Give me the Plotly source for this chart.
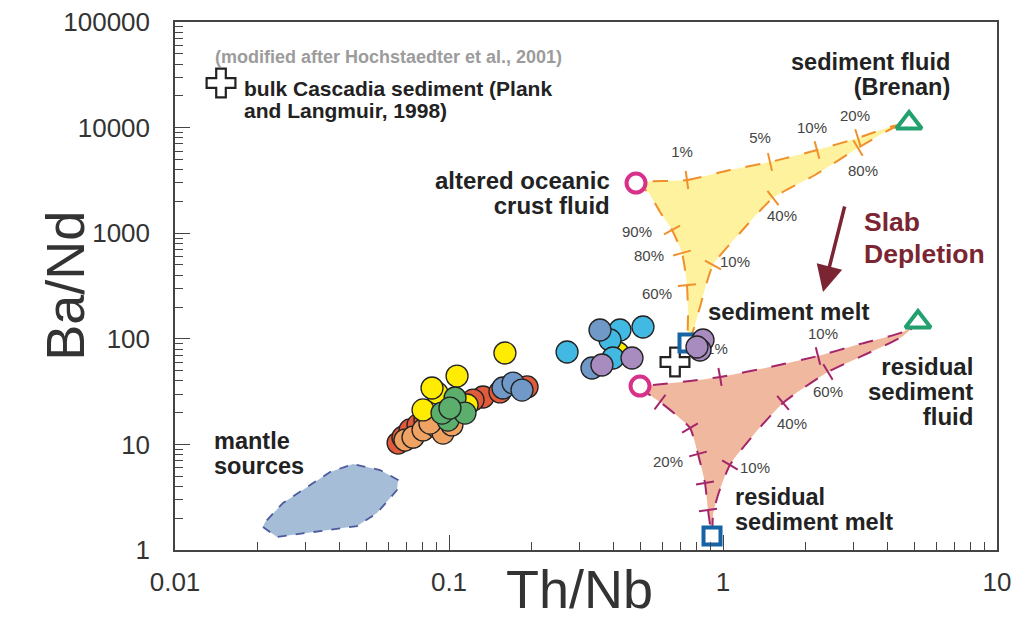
import math
import plotly.graph_objects as go

# ---------------- data (Th/Nb, Ba/Nd) ----------------
red_x = [0.0652, 0.0679, 0.0721, 0.0771, 0.0817, 0.1331, 0.1224, 0.1927, 0.1535]
red_y = [10.3, 11.7, 13.7, 15.3, 17.0, 28.1, 26.3, 35.0, 31.4]
orange_x = [0.0691, 0.0739, 0.0804, 0.0904, 0.0951, 0.0852, 0.1025]
orange_y = [11.0, 11.7, 13.7, 14.6, 12.8, 15.9, 15.3]
yellow_x = [0.16, 0.107, 0.0904, 0.0804, 0.4139, 0.0867, 0.1164]
yellow_y = [73.4, 44.4, 30.7, 21.2, 73.4, 34.2, 23.6]
green_x = [0.1052, 0.0992, 0.1144, 0.0943, 0.1008]
green_y = [27.5, 17.0, 19.8, 19.8, 22.1]
ltblue_x = [0.2697, 0.4207, 0.5105, 0.3869, 0.3967]
ltblue_y = [75.0, 121.2, 129.4, 97.4, 65.8]
stblue_x = [0.1574, 0.1713, 0.1847, 0.3557, 0.3325]
stblue_y = [34.2, 38.1, 32.7, 121.2, 52.9]
purple_x = [0.3616, 0.4655, 0.8453, 0.8241, 0.8035]
purple_y = [56.5, 65.8, 97.4, 78.3, 83.6]

# end members
aoc_fluid = (0.4814, 2987)
sed_fluid = (4.775, 11060)
sed_melt = (0.7451, 91.3)
res_aoc = (0.4979, 35.7)
res_sed_fluid = (5.149, 144.2)
res_sed_melt = (0.9118, 1.357)
cascadia = (0.668, 60.3)
legend_cross = (0.01472, 26440)

# mantle sources field
mantle_x = [0.02094, 0.02357, 0.04615, 0.05461, 0.06461, 0.06516, 0.05603, 0.04464, 0.03681, 0.02479, 0.02133, 0.02094]
mantle_y = [1.651, 1.328, 1.687, 2.24, 3.70, 4.60, 5.72, 6.52, 5.48, 2.79, 1.84, 1.651]

# upper mixing triangle
up_top_x = [0.4814, 0.7387, 1.060, 1.484, 2.203, 3.109, 4.173, 4.775]
up_top_y = [2987, 3190, 3966, 4722, 6135, 7980, 10360, 11060]
up_right_x = [4.775, 4.173, 3.109, 2.167, 1.522, 1.153, 0.9194, 0.8241, 0.7839, 0.7451]
up_right_y = [11060, 9910, 6412, 3557, 2153, 1004, 500, 200, 126.5, 91.3]
up_left_x = [0.4814, 0.5325, 0.589, 0.6515, 0.7084, 0.7387, 0.7451, 0.7451]
up_left_y = [2987, 2455, 1588, 1072, 649, 323, 168, 91.3]
up_tick_x = [0.7387, 1.484, 2.203, 3.109, 3.109, 1.522, 0.9194, 0.6515, 0.7084, 0.7387]
up_tick_y = [3190, 4722, 6135, 7980, 6412, 2153, 500, 1072, 649, 323]
up_lab = ["1%", "5%", "10%", "20%", "80%", "40%", "10%", "90%", "80%", "60%"]
up_lab_x = [0.7084, 1.365, 2.113, 3.032, 3.243, 1.642, 1.106, 0.4855, 0.5369, 0.5742]
up_lab_y = [5744, 7800, 9700, 12590, 3800, 1423, 522, 1004, 595, 260]

# lower (residual) mixing triangle
lo_top_x = [0.4979, 0.5553, 0.7579, 0.9752, 1.484, 2.222, 3.162, 4.539, 5.149]
lo_top_y = [35.7, 36.5, 39.8, 43.5, 54.1, 68.7, 89.3, 116, 144.2]
lo_right_x = [5.149, 4.539, 3.162, 2.416, 1.656, 1.309, 1.060, 0.959, 0.9194, 0.9118]
lo_right_y = [144.2, 106.3, 67.3, 48.5, 24.7, 12.8, 6.38, 3.32, 2.145, 1.357]
lo_left_x = [0.4979, 0.528, 0.589, 0.668, 0.7579, 0.8103, 0.8596, 0.8816, 0.9118]
lo_left_y = [35.7, 30.7, 25.2, 19.4, 14.3, 8.11, 4.31, 2.39, 1.357]
lo_tick_x = [0.9752, 2.222, 2.416, 1.656, 1.060, 0.589, 0.7579, 0.8103, 0.8596, 0.8816]
lo_tick_y = [43.5, 68.7, 48.5, 24.7, 6.38, 25.2, 14.3, 8.11, 4.31, 2.39]
lo_lab = ["1%", "10%", "60%", "40%", "10%", "20%"]
lo_lab_x = [0.95, 2.317, 2.416, 1.786, 1.309, 0.630]
lo_lab_y = [78.3, 108.0, 30.7, 15.3, 5.85, 6.67]

x_tickvals = [0.01, 0.1, 1, 10]
x_ticktext = ["0.01", "0.1", "1", "10"]
y_tickvals = [1, 10, 100, 1000, 10000, 100000]
y_ticktext = ["1", "10", "100", "1000", "10000", "100000"]

# ---------------- layout geometry ----------------
W, H = 1020, 644
ML, MR, MT, MB = 175, 23, 22, 94
XR = [-2, 1]
YR = [0, 5]
PPX = (W - ML - MR) / (XR[1] - XR[0])
PPY = (H - MT - MB) / (YR[1] - YR[0])

FONT = "Liberation Sans, Arial, Helvetica, sans-serif"
ORANGE = "#f0902c"
MAGENTA_LINE = "#a3266a"
DARK = "#222222"


def tick_angles(tx, ty, edges):
    """Angle (deg, clockwise) so a line-ns marker is perpendicular to its curve."""
    out = []
    for x, y in zip(tx, ty):
        px, py = math.log10(x) * PPX, -math.log10(y) * PPY
        best = None
        for ex, ey in edges:
            pts = [(math.log10(a) * PPX, -math.log10(b) * PPY) for a, b in zip(ex, ey)]
            for i, (qx, qy) in enumerate(pts):
                d = (qx - px) ** 2 + (qy - py) ** 2
                if best is None or d < best[0]:
                    i0 = max(i - 1, 0)
                    i1 = min(i + 1, len(pts) - 1)
                    dx = pts[i1][0] - pts[i0][0]
                    dy = pts[i1][1] - pts[i0][1]
                    best = (d, math.degrees(math.atan2(dy, dx)))
        out.append(best[1])
    return out


fig = go.Figure()

# mantle field
fig.add_trace(go.Scatter(x=mantle_x, y=mantle_y, mode="lines", fill="toself",
                         fillcolor="#a6bdd8",
                         line=dict(color="#4d5a9c", width=1.8, dash="dash"),
                         hoverinfo="skip"))

# upper triangle
poly_x = up_top_x + up_right_x[1:] + up_left_x[::-1][1:]
poly_y = up_top_y + up_right_y[1:] + up_left_y[::-1][1:]
fig.add_trace(go.Scatter(x=poly_x, y=poly_y, mode="lines", fill="toself",
                         fillcolor="#fff29e",
                         line=dict(color=ORANGE, width=2, dash="longdash", shape="spline", smoothing=0.6),
                         hoverinfo="skip"))
fig.add_trace(go.Scatter(x=up_tick_x, y=up_tick_y, mode="markers",
                         marker=dict(symbol="line-ns", size=13,
                                     angle=tick_angles(up_tick_x, up_tick_y,
                                                       [(up_top_x, up_top_y), (up_right_x, up_right_y),
                                                        (up_left_x, up_left_y)]),
                                     line=dict(color=ORANGE, width=2)),
                         hoverinfo="skip"))

# lower triangle
poly_x = lo_top_x + lo_right_x[1:] + lo_left_x[::-1][1:]
poly_y = lo_top_y + lo_right_y[1:] + lo_left_y[::-1][1:]
fig.add_trace(go.Scatter(x=poly_x, y=poly_y, mode="lines", fill="toself",
                         fillcolor="#f1b8a0",
                         line=dict(color=MAGENTA_LINE, width=2, dash="longdash", shape="spline", smoothing=0.6),
                         hoverinfo="skip"))
fig.add_trace(go.Scatter(x=lo_tick_x, y=lo_tick_y, mode="markers",
                         marker=dict(symbol="line-ns", size=13,
                                     angle=tick_angles(lo_tick_x, lo_tick_y,
                                                       [(lo_top_x, lo_top_y), (lo_right_x, lo_right_y),
                                                        (lo_left_x, lo_left_y)]),
                                     line=dict(color=MAGENTA_LINE, width=2)),
                         hoverinfo="skip"))

# percentage labels
for lx, ly, lt in [(up_lab_x, up_lab_y, up_lab), (lo_lab_x, lo_lab_y, lo_lab)]:
    fig.add_trace(go.Scatter(x=lx, y=ly, text=lt, mode="text", textposition="middle center",
                             textfont=dict(family=FONT, size=15, color="#444444"), hoverinfo="skip"))

# end-member symbols
fig.add_trace(go.Scatter(x=[legend_cross[0], cascadia[0]], y=[legend_cross[1], cascadia[1]], mode="markers",
                         marker=dict(symbol="cross", size=24, color="white", line=dict(color=DARK, width=2.2))))
fig.add_trace(go.Scatter(x=[sed_melt[0], res_sed_melt[0]], y=[sed_melt[1], res_sed_melt[1]], mode="markers",
                         marker=dict(symbol="square", size=17, color="white", line=dict(color="#1663a6", width=4))))
fig.add_trace(go.Scatter(x=[aoc_fluid[0], res_aoc[0]], y=[aoc_fluid[1], res_aoc[1]], mode="markers",
                         marker=dict(symbol="circle", size=19, color="white", line=dict(color="#d8318a", width=4))))
fig.add_trace(go.Scatter(x=[sed_fluid[0], res_sed_fluid[0]], y=[sed_fluid[1], res_sed_fluid[1]], mode="markers",
                         marker=dict(symbol="triangle-up", size=22, color="white", line=dict(color="#22a06e", width=4))))

# sample data
for xs, ys, col in [(red_x, red_y, "#e05a3c"), (orange_x, orange_y, "#f0a262"),
                    (yellow_x, yellow_y, "#ffec00"), (green_x, green_y, "#5bae6c"),
                    (ltblue_x, ltblue_y, "#41b9e2"), (stblue_x, stblue_y, "#7099c8"),
                    (purple_x, purple_y, "#a98cbf")]:
    fig.add_trace(go.Scatter(x=xs, y=ys, mode="markers",
                             marker=dict(symbol="circle", size=22, color=col,
                                         line=dict(color="#222222", width=1.3))))

L = math.log10
ann = []


def txt(lines, x, y, anchor="left", size=24, spacing=25, color=DARK):
    """Multi-line bold label; (x, y) = anchor point at the vertical centre of the block."""
    body = "<br>".join("<span style='font-size:%gpx'>%s</span>" % (size, s) for s in lines)
    ann.append(dict(text=body, x=L(x), y=L(y), xref="x", yref="y", showarrow=False,
                    xanchor=anchor, yanchor="middle", align=anchor,
                    font=dict(family=FONT, size=spacing / 1.3, color=color, weight="bold")))


def mid(y_first, n, spacing):
    return y_first / 10 ** ((n - 1) * spacing / 2 / PPY)


txt(["(modified after Hochstaedter et al., 2001)"], 0.01377, 46700, size=18, spacing=22, color="#9c9c9c")
txt(["bulk Cascadia sediment (Plank", "and Langmuir, 1998)"], 0.01758, mid(23700, 2, 22), size=21, spacing=22)
txt(["altered oceanic", "crust fluid"], 0.3936, mid(3190, 2, 25), anchor="right")
txt(["sediment fluid", "(Brenan)"], 6.85, mid(41800, 2, 24.5), anchor="right", size=23.5, spacing=24.5)
txt(["sediment melt"], 0.867, 179.5)
txt(["Slab", "Depletion"], 3.214, mid(1276, 2, 32), size=26.5, spacing=32, color="#7b2532")
txt(["residual", "sediment", "fluid"], 8.31, mid(54.1, 3, 25), anchor="right")
txt(["residual", "sediment melt"], 1.088, mid(3.18, 2, 24.5), size=23.5, spacing=24.5)
txt(["mantle", "sources"], 0.01365, mid(10.77, 2, 24.5), size=23.5, spacing=24.5)

# slab depletion arrow
ann.append(dict(x=0.365, y=2.443, ax=0.4453, ay=3.267, xref="x", yref="y", axref="x", ayref="y",
                showarrow=True, arrowhead=2, arrowsize=1.5, arrowwidth=3.5, arrowcolor="#7b2532", text=""))

# axis titles
ann.append(dict(text="Ba/Nd", x=-0.173, y=0.5, xref="paper", yref="paper", showarrow=False,
                textangle=-90, font=dict(family=FONT, size=54, color="#333333")))
ann.append(dict(text="Th/Nb", x=0.4927, y=-0.1345, xref="paper", yref="paper", showarrow=False,
                font=dict(family=FONT, size=54, color="#333333")))

axis_common = dict(showgrid=False, zeroline=False, showline=True, linecolor="#444444", linewidth=1.5,
                   mirror=True, ticks="inside", ticklen=15, tickwidth=1.3, tickcolor="#444444",
                   automargin=False, tickmode="array",
                   minor=dict(tickmode="linear", tick0=0, dtick="D1", ticks="inside", ticklen=8,
                              tickwidth=1.1, tickcolor="#444444", showgrid=False),
                   tickfont=dict(family=FONT, size=26, color="#333333"))

fig.update_xaxes(type="log", range=XR, tickvals=x_tickvals, ticktext=x_ticktext, ticklabelstandoff=8,
                 **axis_common)
fig.update_yaxes(type="log", range=YR, tickvals=y_tickvals, ticktext=y_ticktext, ticklabelstandoff=18,
                 **axis_common)

fig.update_layout(width=W, height=H, margin=dict(l=ML, r=MR, t=MT, b=MB),
                  paper_bgcolor="white", plot_bgcolor="white", showlegend=False,
                  annotations=ann, font=dict(family=FONT))

fig.write_html("out.html", config={"displayModeBar": False},
               post_script="document.body.style.margin='0px';document.body.style.padding='0px';")
